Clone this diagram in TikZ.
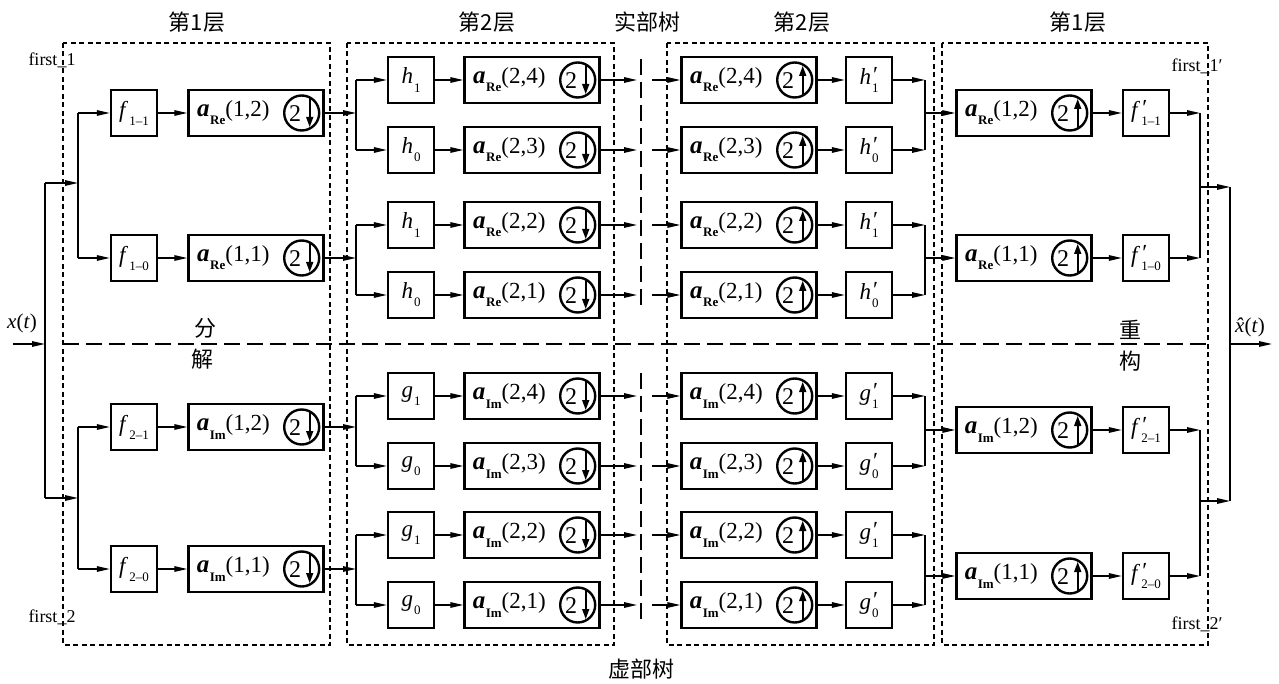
\documentclass[tikz,border=0pt]{standalone}
\usepackage{fontspec}
\setmainfont{Liberation Serif}
\newfontfamily\cjk{Noto Sans CJK SC}
\usetikzlibrary{arrows.meta}
\newcommand\fs[1]{\fontsize{#1}{#1}\selectfont}
\newcommand\sbs[1]{\raisebox{-0.35em}{\fs{13}#1}}
\newcommand\Lb[2]{\textit{#1}\kern1pt\sbs{#2}}
\newcommand\Lp[2]{\textit{#1}\rlap{\kern2pt\raisebox{0.12em}{′}}\kern1pt\sbs{#2}}
\newcommand\AL[2]{{\fs{25}\bfseries\itshape a}\kern0.5pt\sbs{\bfseries #1}(#2)}
\newcommand\ABox[5]{%
  \node[abox] (#1) at (#2,#3) {};
  \node[alab] (#1l) at ([xshift=46pt]#1.west) {#4};
  \pic (#1c) at ([xshift=-23pt]#1.east) {#5};
}
\tikzset{
  ln/.style={line width=1.4pt},
  arr/.style={line width=1.4pt, -{Triangle[length=13pt,width=5.5pt]}},
  sbox/.style={draw, line width=2.4pt, minimum width=46pt, minimum height=46pt, inner sep=0pt, font=\fs{23}},
  abox/.style={draw, line width=2.4pt, minimum width=135pt, minimum height=46pt, inner sep=0pt},
  alab/.style={inner sep=0pt, font=\fs{23}},
  circ/.style={circle, draw, line width=2.4pt, minimum size=35pt, inner sep=0pt},
  dbox/.style={line width=1.1pt, dash pattern=on 5pt off 3.5pt},
  ldash/.style={line width=1.1pt, dash pattern=on 16pt off 7pt},
  cjkt/.style={font=\cjk\fs{22}},
  lbl/.style={font=\fs{18}, inner sep=0pt},
  sarr/.style={line width=1.6pt, -{Triangle[length=10pt,width=7pt]}},
  dnc/.pic={\node[circ] (-o) {}; \node[inner sep=0pt, font=\fs{24}] (-t) at (-6.5,1) {2}; \draw[sarr] (8,-15) -- (8,14);},
  upc/.pic={\node[circ] (-o) {}; \node[inner sep=0pt, font=\fs{24}] (-t) at (-6.5,1) {2}; \draw[sarr] (8,15) -- (8,-14);},
}
\begin{document}
\begin{tikzpicture}[x=1pt,y=-1pt]
\useasboundingbox (0,0) rectangle (1279,684);
\fill[white] (0,0) rectangle (1279,684);

% dashed frames
\draw[dbox] (63,43) rectangle (330,645);
\draw[dbox] (347,43) rectangle (614,645);
\draw[dbox] (667,43) rectangle (934,645);
\draw[dbox] (942,43) rectangle (1208,645);
\draw[ldash] (63,344) -- (1212,344);
\draw[ldash] (641,59) -- (641,312);
\draw[ldash] (641,373) -- (641,625);

% coordinates
\coordinate (xin) at (13,344);
\coordinate (sp) at (45,344);
\coordinate (sT) at (45,183);
\coordinate (sB) at (45,498);
\coordinate (bT) at (78,183);
\coordinate (bB) at (78,498);
\coordinate (bL) at (356,0);
\coordinate (gA) at (637,0);
\coordinate (gB) at (652,0);
\coordinate (bR) at (925,0);
\coordinate (bR1) at (1200,0);
\coordinate (oT) at (1230,187);
\coordinate (oB) at (1230,501);
\coordinate (xout) at (1272,344);

% left level 1
\node[sbox] (f11) at (134,113) {\Lb{f}{1–1}};
\ABox{a12}{256}{113}{\AL{Re}{1,2}}{dnc}
\node[sbox] (f10) at (134,258) {\Lb{f}{1–0}};
\ABox{a11}{256}{258}{\AL{Re}{1,1}}{dnc}
\node[sbox] (f21) at (134,427) {\Lb{f}{2–1}};
\ABox{b12}{256}{427}{\AL{Im}{1,2}}{dnc}
\node[sbox] (f20) at (134,569) {\Lb{f}{2–0}};
\ABox{b11}{256}{569}{\AL{Im}{1,1}}{dnc}

% level 2 both sides
\foreach \r/\y/\c/\i/\k/\m in {1/80/h/1/Re/4, 2/150/h/0/Re/3, 3/225/h/1/Re/2, 4/295/h/0/Re/1, 5/396/g/1/Im/4, 6/466/g/0/Im/3, 7/535/g/1/Im/2, 8/605/g/0/Im/1}{
  \node[sbox] (F\r) at (411,\y) {\Lb{\c}{\i}};
  \ABox{A\r}{532}{\y}{\AL{\k}{2,\m}}{dnc}
  \ABox{B\r}{749}{\y}{\AL{\k}{2,\m}}{upc}
  \node[sbox] (G\r) at (869,\y) {\Lp{\c}{\i}};
  \draw[arr] (F\r) -- (A\r);
  \draw[arr] (A\r.east) -- (A\r.east -| gA);
  \draw[arr] (A\r.east -| gB) -- (B\r.west);
  \draw[arr] (B\r) -- (G\r);
  \draw[arr] (G\r.east) -- (G\r.east -| bR);
}

% right level 1
\ABox{ra12}{1024}{113}{\AL{Re}{1,2}}{upc}
\node[sbox] (fp11) at (1146,113) {\Lp{f}{1–1}};
\ABox{ra11}{1024}{258}{\AL{Re}{1,1}}{upc}
\node[sbox] (fp10) at (1146,258) {\Lp{f}{1–0}};
\ABox{rb12}{1024}{430}{\AL{Im}{1,2}}{upc}
\node[sbox] (fp21) at (1146,430) {\Lp{f}{2–1}};
\ABox{rb11}{1024}{576}{\AL{Im}{1,1}}{upc}
\node[sbox] (fp20) at (1146,576) {\Lp{f}{2–0}};

% input connectors
\draw[arr] (xin) -- (sp);
\draw[ln] (sT) -- (sB);
\draw[arr] (sT) -- (bT);
\draw[arr] (sB) -- (bB);
\draw[ln] (bT |- f11) -- (bT |- f10);
\draw[arr] (bT |- f11) -- (f11);
\draw[arr] (bT |- f10) -- (f10);
\draw[ln] (bB |- f21) -- (bB |- f20);
\draw[arr] (bB |- f21) -- (f21);
\draw[arr] (bB |- f20) -- (f20);
\draw[arr] (f11) -- (a12);
\draw[arr] (f10) -- (a11);
\draw[arr] (f21) -- (b12);
\draw[arr] (f20) -- (b11);

% level 1 -> level 2
\draw[arr] (a12.east) -- (a12.east -| bL);
\draw[ln] (bL |- F1) -- (bL |- F2);
\draw[arr] (bL |- F1) -- (F1);
\draw[arr] (bL |- F2) -- (F2);
\draw[arr] (a11.east) -- (a11.east -| bL);
\draw[ln] (bL |- F3) -- (bL |- F4);
\draw[arr] (bL |- F3) -- (F3);
\draw[arr] (bL |- F4) -- (F4);
\draw[arr] (b12.east) -- (b12.east -| bL);
\draw[ln] (bL |- F5) -- (bL |- F6);
\draw[arr] (bL |- F5) -- (F5);
\draw[arr] (bL |- F6) -- (F6);
\draw[arr] (b11.east) -- (b11.east -| bL);
\draw[ln] (bL |- F7) -- (bL |- F8);
\draw[arr] (bL |- F7) -- (F7);
\draw[arr] (bL |- F8) -- (F8);

% right level 2 -> level 1
\draw[ln] (bR |- G1) -- (bR |- G2);
\draw[arr] (bR |- ra12) -- (ra12);
\draw[ln] (bR |- G3) -- (bR |- G4);
\draw[arr] (bR |- ra11) -- (ra11);
\draw[ln] (bR |- G5) -- (bR |- G6);
\draw[arr] (bR |- rb12) -- (rb12);
\draw[ln] (bR |- G7) -- (bR |- G8);
\draw[arr] (bR |- rb11) -- (rb11);

% right level 1 -> output
\draw[arr] (ra12) -- (fp11);
\draw[arr] (ra11) -- (fp10);
\draw[arr] (rb12) -- (fp21);
\draw[arr] (rb11) -- (fp20);
\draw[arr] (fp11.east) -- (fp11.east -| bR1);
\draw[arr] (fp10.east) -- (fp10.east -| bR1);
\draw[arr] (fp21.east) -- (fp21.east -| bR1);
\draw[arr] (fp20.east) -- (fp20.east -| bR1);
\draw[ln] (bR1 |- fp11) -- (bR1 |- fp10);
\draw[ln] (bR1 |- fp21) -- (bR1 |- fp20);
\draw[arr] (bR1 |- oT) -- (oT);
\draw[arr] (bR1 |- oB) -- (oB);
\draw[ln] (oT) -- (oB);
\draw[arr] (oT |- xout) -- (xout);

% texts
\node[cjkt] (h1) at (197,22) {第1层};
\node[cjkt] (h2) at (487,22) {第2层};
\node[cjkt] (h3) at (647,22) {实部树};
\node[cjkt] (h4) at (802,22) {第2层};
\node[cjkt] (h5) at (1078,22) {第1层};
\node[cjkt] (h6) at (641,669) {虚部树};
\node[cjkt] (d1) at (205,328) {分};
\node[cjkt] (d2) at (202,359) {解};
\node[cjkt] (d3) at (1130,330) {重};
\node[cjkt] (d4) at (1130,361) {构};
\node[lbl] (l1) at (52,60) {first\_1};
\node[lbl] (l2) at (52,617) {first\_2};
\node[lbl] (l3) at (1197,66) {first\_1′};
\node[lbl] (l4) at (1197,624) {first\_2′};
\node[font=\fs{21}, inner sep=0pt] (xt) at (22,323) {\textit{x}(\textit{t})};
\node[font=\fs{21}, inner sep=0pt] (xh) at (1250,327) {\textit{x}\llap{\textit{ˆ}\kern1pt}(\textit{t})};
\end{tikzpicture}
\end{document}
